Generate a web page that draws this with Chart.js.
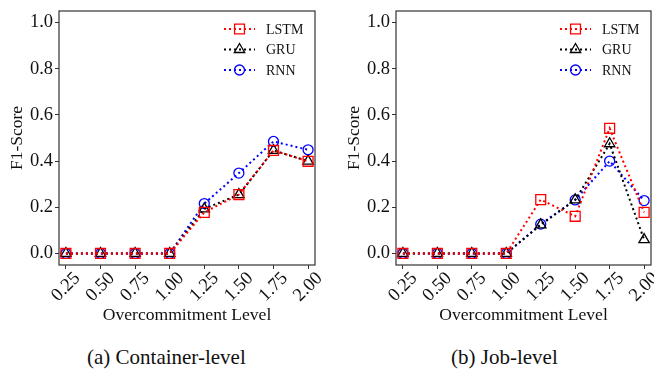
<!DOCTYPE html>
<html>
<head>
<meta charset="utf-8">
<script src="https://cdn.jsdelivr.net/npm/chart.js@4.4.1/dist/chart.umd.min.js"></script>
<style>
  body { margin: 0; background: #fff; width: 654px; height: 370px; overflow: hidden; position: relative; }
  .panel { position: absolute; top: 0; height: 340px; }
  #p1 { left: 0; width: 330px; }
  #p2 { left: 330px; width: 324px; }
  .caption { position: absolute; top: 345px; font-family: "Liberation Serif", serif; font-size: 21px; line-height: 24px; color: #111; white-space: nowrap; }
</style>
</head>
<body>
<div class="panel" id="p1"><canvas id="c1"></canvas></div>
<div class="panel" id="p2"><canvas id="c2"></canvas></div>
<div class="caption" style="left:87px">(a) Container-level</div>
<div class="caption" style="left:451px">(b) Job-level</div>
<script>
// overcommitment levels (x axis)
const levels = [0.25, 0.50, 0.75, 1.00, 1.25, 1.50, 1.75, 2.00];
const yTicks = [0.0, 0.2, 0.4, 0.6, 0.8, 1.0];

// (a) container-level F1
const lstmContainer = [0, 0, 0, 0, 0.178, 0.255, 0.446, 0.399];
const gruContainer  = [0, 0, 0, 0, 0.193, 0.255, 0.446, 0.400];
const rnnContainer  = [0, 0, 0, 0, 0.216, 0.348, 0.485, 0.449];

// (b) job-level F1
const lstmJob = [0, 0, 0, 0, 0.233, 0.161, 0.542, 0.178];
const gruJob  = [0, 0, 0, 0, 0.124, 0.232, 0.475, 0.060];
const rnnJob  = [0, 0, 0, 0, 0.127, 0.232, 0.400, 0.229];

const serif = '"Liberation Serif", "Times New Roman", serif';
const frameColor = '#333';
const textColor = '#111';
const tickFont = 18.5;

const seriesStyle = [
    { label: 'LSTM', color: '#ff0000', point: 'rect', radius: 7 },
    { label: 'GRU', color: '#000000', point: 'triangle', radius: 6 },
    { label: 'RNN', color: '#0000ff', point: 'circle', radius: 5 }
];

function makeDatasets(seriesList) {
    return seriesList.map((vals, i) => ({
        label: seriesStyle[i].label,
        data: levels.map((x, j) => ({ x: x, y: vals[j] })),
        borderColor: seriesStyle[i].color,
        borderWidth: 2,
        borderDash: [2, 3],
        pointStyle: seriesStyle[i].point,
        pointRadius: seriesStyle[i].radius,
        pointBorderWidth: 1.3,
        pointBackgroundColor: 'rgba(0,0,0,0)',
        pointBorderColor: seriesStyle[i].color,
        fill: false,
        tension: 0
    }));
}

// frame round the plot, rotated x labels (centred on tick like matplotlib) and the legend
const framePlugin = {
    id: 'frameAndLegend',
    afterDraw: (chart) => {
        const {ctx, chartArea} = chart;
        ctx.save();
        ctx.strokeStyle = frameColor;
        ctx.lineWidth = 1.2;
        ctx.strokeRect(chartArea.left, chartArea.top, chartArea.right - chartArea.left, chartArea.bottom - chartArea.top);

        // x tick labels
        const xs = chart.scales.x;
        ctx.fillStyle = textColor;
        ctx.font = tickFont + 'px ' + serif;
        ctx.textAlign = 'center';
        ctx.textBaseline = 'middle';
        levels.forEach(v => {
            ctx.save();
            ctx.translate(xs.getPixelForValue(v), chartArea.bottom + 22);
            ctx.rotate(-Math.PI / 4);
            ctx.fillText(v.toFixed(2), 0, 0);
            ctx.restore();
        });

        // legend
        const x0 = chartArea.right - 91;
        ctx.textAlign = 'left';
        chart.data.datasets.forEach((ds, i) => {
            const y = chartArea.top + 18 + i * 20.5;
            ctx.strokeStyle = ds.borderColor;
            ctx.lineWidth = 2;
            ctx.setLineDash([2, 3]);
            ctx.beginPath();
            ctx.moveTo(x0, y);
            ctx.lineTo(x0 + 31, y);
            ctx.stroke();
            ctx.setLineDash([]);
            ctx.lineWidth = 1.3;
            ctx.fillStyle = 'rgba(0,0,0,0)';
            Chart.helpers.drawPoint(ctx, {
                pointStyle: ds.pointStyle,
                radius: ds.pointRadius,
                borderWidth: 1.3,
                rotation: 0
            }, x0 + 15.5, y);
            ctx.fillStyle = textColor;
            ctx.font = '14px ' + serif;
            ctx.fillText(ds.label, x0 + 42, y + 1);
        });
        ctx.restore();
    }
};

function makeChart(canvasId, seriesList, yAxisWidth, rightPad, titleOffset) {
    return new Chart(document.getElementById(canvasId), {
        type: 'line',
        data: { datasets: makeDatasets(seriesList) },
        options: {
            responsive: true,
            maintainAspectRatio: false,
            animation: false,
            layout: { autoPadding: false, padding: { top: 11, right: rightPad, bottom: 0, left: 0 } },
            plugins: {
                legend: { display: false },
                tooltip: { enabled: false }
            },
            scales: {
                x: {
                    type: 'linear',
                    min: 0.2,
                    max: 2.05,
                    afterBuildTicks: s => { s.ticks = levels.map(v => ({ value: v })); },
                    afterFit: s => { s.height = 75; s.paddingLeft = 0; s.paddingRight = 0; },
                    ticks: { display: false },
                    grid: { drawOnChartArea: false, color: frameColor, tickLength: 4 },
                    border: { display: false },
                    title: {
                        display: true,
                        text: 'Overcommitment Level',
                        color: textColor,
                        font: { family: serif, size: 17.6 },
                        padding: { top: 0, bottom: 14 }
                    }
                },
                y: {
                    min: -0.05,
                    max: 1.05,
                    afterBuildTicks: s => { s.ticks = yTicks.map(v => ({ value: v })); },
                    afterFit: s => { s.width = yAxisWidth; s.paddingTop = 0; s.paddingBottom = 0; },
                    ticks: {
                        color: textColor,
                        font: { family: serif, size: tickFont },
                        padding: 2,
                        callback: v => v.toFixed(1)
                    },
                    grid: { drawOnChartArea: false, color: frameColor, tickLength: 4 },
                    border: { display: false },
                    title: {
                        display: true,
                        text: 'F1-Score',
                        color: textColor,
                        font: { family: serif, size: 17.5 },
                        padding: { top: titleOffset, bottom: 0 }
                    }
                }
            }
        },
        plugins: [framePlugin]
    });
}

makeChart('c1', [lstmContainer, gruContainer, rnnContainer], 59, 15, 6.5);
makeChart('c2', [lstmJob, gruJob, rnnJob], 66, 3, 13.5);
</script>
</body>
</html>
